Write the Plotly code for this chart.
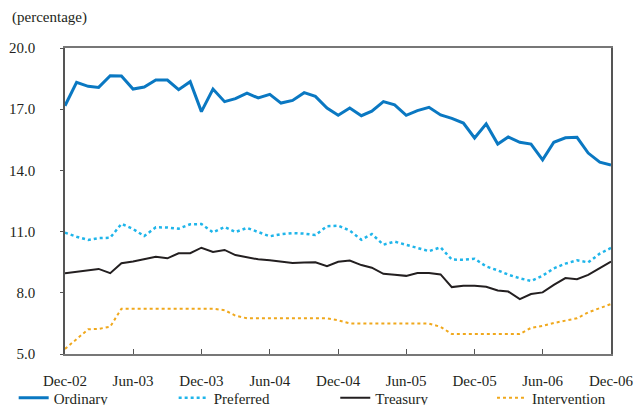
import pandas as pd
import plotly.graph_objects as go

# monthly, Dec-02 .. Dec-06
months = pd.date_range("2002-12-01", "2006-12-01", freq="MS")

ordinary = [17.17, 18.32, 18.12, 18.07, 18.64, 18.63, 17.99, 18.09, 18.43, 18.43,
            17.96, 18.35, 16.88, 17.99, 17.37, 17.52, 17.79, 17.55, 17.73, 17.30,
            17.43, 17.81, 17.63, 17.06, 16.70, 17.06, 16.68, 16.90, 17.37, 17.21,
            16.70, 16.93, 17.09, 16.72, 16.55, 16.32, 15.59, 16.28, 15.29, 15.64,
            15.38, 15.29, 14.52, 15.38, 15.60, 15.62, 14.85, 14.40, 14.26]
preferred = [10.95, 10.75, 10.59, 10.68, 10.70, 11.38, 11.13, 10.78, 11.21, 11.20,
             11.14, 11.36, 11.37, 10.96, 11.23, 10.98, 11.18, 10.96, 10.77, 10.87,
             10.93, 10.90, 10.83, 11.26, 11.29, 11.05, 10.60, 10.88, 10.36, 10.51,
             10.37, 10.20, 10.04, 10.23, 9.63, 9.62, 9.67, 9.29, 9.10, 8.89,
             8.71, 8.58, 8.84, 9.20, 9.43, 9.59, 9.49, 9.92, 10.20]
treasury = [8.96, 9.03, 9.07, 9.17, 8.96, 9.45, 9.53, 9.64, 9.77, 9.69,
            9.94, 9.94, 10.21, 10.00, 10.10, 9.85, 9.76, 9.64, 9.60, 9.53,
            9.46, 9.48, 9.50, 9.30, 9.52, 9.58, 9.36, 9.23, 8.93, 8.88,
            8.83, 8.97, 8.97, 8.90, 8.28, 8.34, 8.34, 8.30, 8.11, 8.06,
            7.69, 7.94, 8.02, 8.39, 8.72, 8.67, 8.88, 9.21, 9.53]
intervention = [5.25, 5.72, 6.21, 6.23, 6.34, 7.22, 7.22, 7.22, 7.22, 7.22,
                7.22, 7.22, 7.22, 7.22, 7.15, 6.88, 6.75, 6.75, 6.75, 6.75,
                6.75, 6.75, 6.75, 6.75, 6.65, 6.50, 6.49, 6.49, 6.49, 6.49,
                6.49, 6.49, 6.49, 6.33, 5.98, 5.98, 5.98, 5.98, 5.98, 5.98,
                5.98, 6.28, 6.38, 6.52, 6.63, 6.75, 7.04, 7.24, 7.45]

tick_dates = months[::6]
tick_text = [d.strftime("%b-%y") for d in tick_dates]

font = dict(family="Liberation Serif", size=15, color="#231f20")

fig = go.Figure()
fig.add_trace(go.Scatter(x=months, y=ordinary, name="Ordinary", mode="lines",
                         line=dict(color="#0a78c2", width=3), legend="legend"))
fig.add_trace(go.Scatter(x=months, y=preferred, name="Preferred", mode="lines",
                         line=dict(color="#1fb5ea", width=2.5, dash="dot"),
                         legend="legend2"))
fig.add_trace(go.Scatter(x=months, y=treasury, name="Treasury", mode="lines",
                         line=dict(color="#231f20", width=2), legend="legend3"))
fig.add_trace(go.Scatter(x=months, y=intervention, name="Intervention", mode="lines",
                         line=dict(color="#f0a81c", width=2, dash="dot"),
                         legend="legend4"))

# one legend per series so each entry can sit where the original has it
leg = dict(orientation="h", xanchor="left", y=-0.09, yanchor="top",
           font=font, bgcolor="rgba(0,0,0,0)")

fig.update_layout(
    width=635, height=405,
    margin=dict(l=65, r=24, t=48, b=51, autoexpand=False),
    paper_bgcolor="white", plot_bgcolor="white",
    font=font,
    showlegend=True,
    legend=dict(leg, x=-0.094),
    legend2=dict(leg, x=0.199),
    legend3=dict(leg, x=0.495),
    legend4=dict(leg, x=0.782),
    xaxis=dict(range=[months[0], months[-1]], tickvals=tick_dates, ticktext=tick_text,
               ticks="inside", ticklen=5, tickcolor="#555", showgrid=False,
               zeroline=False, showline=True, linecolor="#777", linewidth=1.5,
               mirror=True, ticklabelstandoff=12),
    yaxis=dict(range=[5, 20], tickvals=[5, 8, 11, 14, 17, 20], tickformat=".1f",
               ticks="outside", ticklen=3, tickcolor="#555", showgrid=False,
               zeroline=False, showline=True, linecolor="#555", linewidth=1.5,
               mirror=True, ticklabelstandoff=22),
    yaxis2=dict(range=[5, 20], overlaying="y", side="right",
                tickvals=[8, 11, 14, 17], ticks="inside", ticklen=6, tickcolor="#333",
                showticklabels=False, showgrid=False, zeroline=False, showline=False),
)

fig.add_annotation(text="(percentage)", xref="paper", yref="paper",
                   x=-0.1, y=1.1, xanchor="left", yanchor="middle",
                   showarrow=False, font=font)

# drop the default body margin so the figure fills the window exactly
fig.write_html("out.html", config={"displayModeBar": False},
               post_script="document.body.style.margin='0';")
